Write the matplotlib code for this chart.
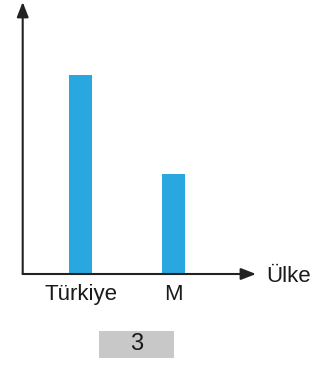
import matplotlib
matplotlib.use("Agg")
import matplotlib.pyplot as plt
from matplotlib.patches import Rectangle

categories = ["Türkiye", "M"]
values = [2.0, 1.0]
axis_label = "Ülke"
box_label = "3"

W, H = 321, 371
fig = plt.figure(figsize=(W / 100, H / 100), dpi=100)
fig.patch.set_facecolor("white")

# axes placement in pixels
left_px, right_px = 22.7, 256
bottom_px, top_px = 274, 2
ax = fig.add_axes([left_px / W, (H - bottom_px) / H,
                   (right_px - left_px) / W, (bottom_px - top_px) / H])
ax.set_facecolor("none")

xpos = list(range(len(categories)))
ax.bar(xpos, values, width=0.247, color="#29a8e0", zorder=1)
ax.set_xlim(-0.6215, 1.885)
ax.set_ylim(0, 2.733)

for s in ax.spines.values():
    s.set_visible(False)
ax.set_yticks([])
ax.set_xticks(xpos)
ax.set_xticklabels(categories, fontsize=16, family="Liberation Sans", color="#1a1a1a")
ax.tick_params(axis="x", length=0, pad=7)

arrow = dict(arrowstyle="-|>,head_length=0.9,head_width=0.35", color="#222222",
             lw=1.5, shrinkA=0, shrinkB=0)
ax.annotate("", xy=(0, 1), xytext=(0, 0), xycoords="axes fraction",
            arrowprops=arrow, zorder=3, annotation_clip=False)
ax.annotate("", xy=(1, 0), xytext=(0, 0), xycoords="axes fraction",
            arrowprops=arrow, zorder=3, annotation_clip=False)

fig.text(266 / W, (H - 276) / H, axis_label, fontsize=16, family="Liberation Sans",
         color="#1a1a1a", ha="left", va="center")

# gray box with number
bx0, bx1, by0, by1 = 99, 174, 331, 358
fig.patches.append(Rectangle((bx0 / W, (H - by1) / H), (bx1 - bx0) / W, (by1 - by0) / H,
                             transform=fig.transFigure, facecolor="#c8c8c8",
                             edgecolor="none", zorder=0))
fig.text((bx0 + bx1) / 2 / W, (H - (by0 + by1) / 2) / H, box_label, fontsize=17,
         family="Liberation Sans", color="#1a1a1a", ha="center", va="center")

fig.savefig("out.png", dpi=100)
